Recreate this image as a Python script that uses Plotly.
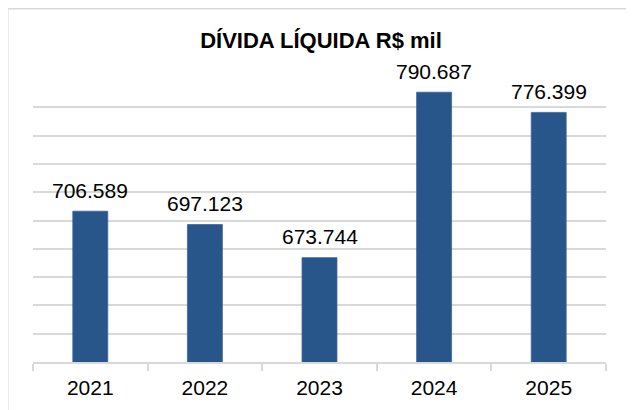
import plotly.graph_objects as go

years = ["2021", "2022", "2023", "2024", "2025"]
divida = [706589, 697123, 673744, 790687, 776399]
title_text = "DÍVIDA LÍQUIDA R$ mil"

bar_color = "#28558a"
grid_color = "#d9d9d9"
font_family = "Liberation Sans, Arial, sans-serif"

fig = go.Figure()
fig.add_trace(go.Bar(
    x=years, y=divida,
    marker=dict(color=bar_color, line=dict(color="#3e6699", width=0.8)),
    hoverinfo="skip",
))

for i, v in enumerate(divida):
    fig.add_annotation(
        x=i, y=v, xref="x", yref="y",
        text=f"{v:,}".replace(",", "."),
        showarrow=False, yanchor="middle", yshift=21,
        font=dict(family=font_family, size=21, color="#000000"),
    )

fig.update_layout(
    width=634, height=410,
    margin=dict(l=25, r=36, t=71, b=56),
    paper_bgcolor="white", plot_bgcolor="white",
    bargap=0.695,
    showlegend=False,
    title=dict(
        text="<b>" + title_text + "</b>",
        x=313 / 634, xanchor="center",
        y=1 - 32 / 410, yanchor="middle",
        font=dict(family=font_family, size=22, color="#000000"),
    ),
    xaxis=dict(
        type="category",
        categoryorder="array", categoryarray=years,
        range=[-0.5, len(years) - 0.5],
        showgrid=False,
        showline=True, linecolor=grid_color, linewidth=1.5,
        ticks="outside", tickson="boundaries", ticklen=7,
        tickcolor=grid_color, tickwidth=1.5,
        ticklabelstandoff=6,
        tickfont=dict(family=font_family, size=21, color="#000000"),
    ),
    yaxis=dict(
        range=[600000, 800000], dtick=20000, tick0=600000,
        showticklabels=False,
        showgrid=True, gridcolor=grid_color, gridwidth=1.5,
        zeroline=False, showline=False, ticks="",
    ),
    shapes=[dict(
        type="rect", xref="paper", yref="paper",
        x0=(7.5 - 33) / 573, x1=(627 - 33) / 573,
        y0=(362 - 412) / 283, y1=(362 - 8.5) / 283,
        line=dict(color=grid_color, width=2), fillcolor="rgba(0,0,0,0)",
        layer="below",
    )],
)

fig.write_html("out.html")
